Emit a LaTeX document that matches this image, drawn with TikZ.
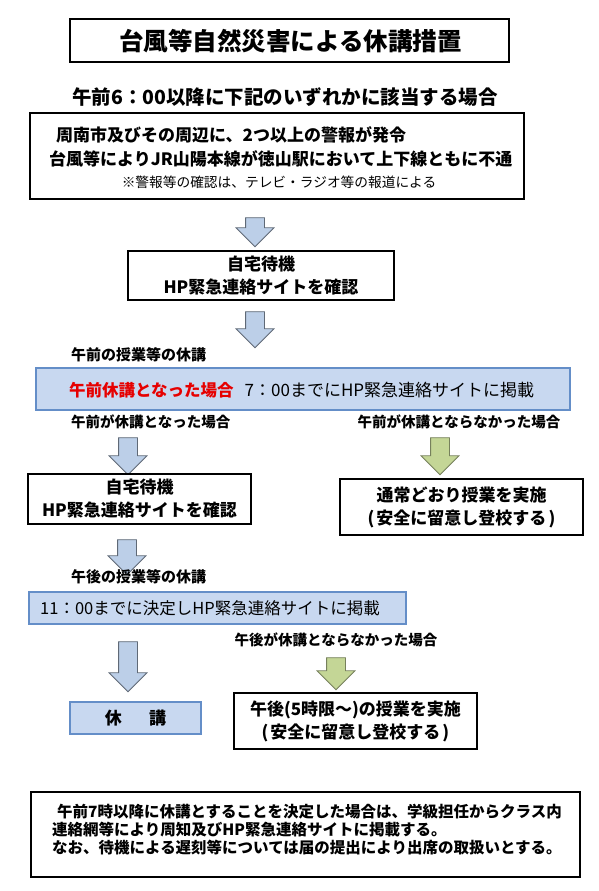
\documentclass[tikz,border=0pt]{standalone}
\usepackage{fontspec}
\setmainfont{Noto Sans CJK JP}
\usetikzlibrary{shapes.arrows}

\definecolor{azulcaja}{RGB}{200,216,240}
\definecolor{bordeazul}{RGB}{100,142,200}
\definecolor{azulflecha}{RGB}{188,207,232}
\definecolor{grisflecha}{RGB}{95,105,118}
\definecolor{verdeflecha}{RGB}{196,214,150}
\definecolor{grisverde}{RGB}{118,128,92}
\definecolor{rojo}{RGB}{230,0,0}

\begin{document}
\begin{tikzpicture}[x=1pt, y=-1pt,
  caja/.style={draw=black, line width=1.1pt, fill=white, inner sep=0pt},
  cajaazul/.style={draw=bordeazul, line width=1.1pt, fill=azulcaja, inner sep=0pt},
  flechaazul/.style={single arrow, draw=grisflecha, fill=azulflecha, line width=0.8pt,
    rotate=-90, inner xsep=0pt, inner ysep=9pt, single arrow head extend=9.5pt},
  flechaverde/.style={flechaazul, draw=grisverde, fill=verdeflecha},
  texto/.style={inner sep=0pt, font=\fontsize{17}{23}\selectfont\bfseries},
  rotulo/.style={inner sep=0pt, anchor=west, font=\fontsize{14.5}{18}\selectfont\bfseries}]

  \useasboundingbox (0,0) rectangle (599,891);

  % Titulo
  \node[caja, minimum width=439pt, minimum height=43pt] (titulo) at (289.5,40.5) {};
  \node[texto, font=\fontsize{24.5}{28}\selectfont\bfseries] (tituloT) at (290.5,41) {台風等自然災害による休講措置};
  \node[texto, font=\fontsize{19.5}{24}\selectfont\bfseries] (sub) at (285,97) {午前6：00以降に下記のいずれかに該当する場合};

  % Condiciones
  \node[caja, minimum width=494pt, minimum height=86pt] (cond) at (277,156) {};
  \node[texto, anchor=west] (cond1) at (56,135) {周南市及びその周辺に、2つ以上の警報が発令};
  \node[texto, anchor=west] (cond2) at (49,159) {台風等によりJR山陽本線が徳山駅において上下線ともに不通};
  \node[texto, font=\fontsize{13.7}{16}\selectfont] (cond3) at (279,182) {※警報等の確認は、テレビ・ラジオ等の報道による};

  \node[flechaazul, minimum height=29pt] (f1) at (255,227.5) {};

  % Espera en casa
  \node[caja, texto, align=center, minimum width=266pt, minimum height=49pt] (espera) at (261,275.5)
    {自宅待機\\HP緊急連絡サイトを確認};

  \node[flechaazul, minimum height=36pt] (f2) at (255,325) {};

  % Manana
  \node[rotulo, font=\fontsize{15}{18}\selectfont\bfseries] (amT) at (71,355) {午前の授業等の休講};
  \node[cajaazul, minimum width=534pt, minimum height=42pt] (am) at (303,389) {};
  \node[texto, anchor=west, font=\fontsize{17}{23}\selectfont] (amtxt) at (69,390)
    {{\fontsize{16.5}{23}\selectfont\bfseries\color{rojo}午前休講となった場合}\hspace{11pt}7：00までにHP緊急連絡サイトに掲載};
  \node[rotulo] (amsi) at (71,422) {午前が休講となった場合};
  \node[rotulo, anchor=center] (amno) at (459,422) {午前が休講とならなかった場合};

  \node[flechaazul, minimum height=37pt] (f3) at (128,451.5) {};
  \node[flechaverde, minimum height=37pt] (g1) at (440,451.5) {};

  \node[caja, texto, align=center, minimum width=223pt, minimum height=50pt] (espera2) at (139.5,499)
    {自宅待機\\HP緊急連絡サイトを確認};
  \node[caja, texto, align=center, minimum width=243pt, minimum height=56pt] (normal) at (461.5,507)
    {通常どおり授業を実施\\(\kern2pt安全に留意し登校する\kern2pt)};

  \node[flechaazul, minimum height=35pt] (f4) at (127,552.5) {};

  % Tarde
  \node[rotulo, font=\fontsize{15}{18}\selectfont\bfseries] (pmT) at (71,577) {午後の授業等の休講};
  \node[cajaazul, minimum width=377pt, minimum height=32pt] (pm) at (217.5,608) {};
  \node[texto, anchor=west, font=\fontsize{16.5}{20}\selectfont] (pmtxt) at (40,608)
    {11：00までに決定しHP緊急連絡サイトに掲載};
  \node[rotulo, anchor=center] (pmno) at (336,640) {午後が休講とならなかった場合};

  \node[flechaazul, minimum height=50pt] (f5) at (128,662) {};
  \node[flechaverde, minimum height=32pt] (g2) at (336,669) {};

  \node[cajaazul, texto, minimum width=131pt, minimum height=32pt] (kyuko) at (135.5,718) {休\hspace{1.6em}講};
  \node[caja, texto, align=center, minimum width=243pt, minimum height=56pt] (tarde) at (355.5,721)
    {午後(5時限～)の授業を実施\\(\kern2pt安全に留意し登校する\kern2pt)};

  % Nota final
  \node[caja, minimum width=549pt, minimum height=85pt] (nota) at (305.5,834.5) {};
  \node[texto, anchor=west, align=left, font=\fontsize{15.5}{18}\selectfont\bfseries] (notatxt) at (52,830)
    {\hspace{5pt}午前7時以降に休講とすることを決定した場合は、学級担任からクラス内\\
     連絡網等により周知及びHP緊急連絡サイトに掲載する。\\
     なお、待機による遅刻等については届の提出により出席の取扱いとする。};

\end{tikzpicture}
\end{document}
